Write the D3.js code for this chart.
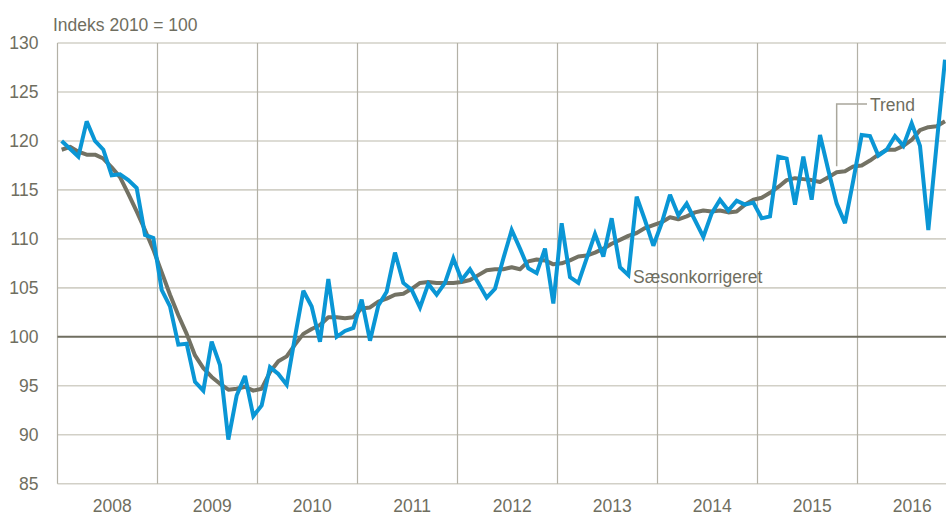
<!DOCTYPE html>
<html>
<head>
<meta charset="utf-8">
<script src="https://cdn.jsdelivr.net/npm/d3@7"></script>
<style>
  html, body { margin: 0; padding: 0; background: #fff; }
  svg { display: block; }
  text { font-family: "Liberation Sans", Arial, sans-serif; }
</style>
</head>
<body>
<svg id="chart" width="946" height="518"></svg>
<script>
// ---- Data (monthly, starting January 2008) ----
const years = ["2008", "2009", "2010", "2011", "2012", "2013", "2014", "2015", "2016"];
const yTicks = [85, 90, 95, 100, 105, 110, 115, 120, 125, 130];

const saesonkorrigeret = [
  120.0, 119.2, 118.4, 122.0, 120.0, 119.1, 116.5, 116.6, 116.0, 115.2, 110.4, 110.1,
  104.8, 103.1, 99.2, 99.3, 95.4, 94.5, 99.5, 97.1, 89.5, 94.0, 96.0, 91.9,
  93.0, 96.9, 96.2, 95.1, 100.0, 104.7, 103.1, 99.5, 105.9, 100.0, 100.6, 100.9,
  103.8, 99.6, 103.2, 104.6, 108.6, 105.5, 104.8, 103.0, 105.4, 104.3, 105.5, 108.0,
  105.8, 106.9, 105.5, 104.0, 104.9, 108.0, 110.9, 109.0, 107.0, 106.5, 109.0, 103.4,
  111.6, 106.1, 105.5, 108.0, 110.5, 108.2, 112.1, 107.1, 106.3, 114.3, 111.9, 109.3,
  111.6, 114.5, 112.4, 113.6, 111.9, 110.2, 112.6, 114.0, 112.9, 113.9, 113.5, 113.7,
  112.1, 112.3, 118.4, 118.2, 113.5, 118.4, 114.0, 120.6, 117.0, 113.6, 111.6, 116.0,
  120.6, 120.5, 118.5, 119.1, 120.5, 119.5, 121.8, 119.5, 110.9, 119.7, 128.3
];

const trend = [
  119.1, 119.4, 118.9, 118.6, 118.6, 118.2, 117.3, 116.3, 114.6, 112.8, 110.9, 108.9,
  106.6, 104.3, 102.2, 100.3, 98.1, 96.8, 95.9, 95.2, 94.6, 94.7, 94.9, 94.5,
  94.7, 96.4, 97.5, 98.0, 99.2, 100.3, 100.8, 101.2, 102.0, 102.0, 101.9, 102.0,
  102.9, 103.0, 103.6, 103.9, 104.3, 104.4, 104.9, 105.5, 105.6, 105.5, 105.5, 105.5,
  105.6, 105.8, 106.3, 106.8, 106.9, 106.9, 107.1, 106.9, 107.7, 107.9, 107.8, 107.4,
  107.5, 107.8, 108.2, 108.3, 108.6, 109.0, 109.5, 109.9, 110.3, 110.6, 111.1, 111.4,
  111.7, 112.2, 112.0, 112.3, 112.7, 112.9, 112.8, 112.9, 112.7, 112.8, 113.5, 114.0,
  114.2, 114.7, 115.3, 116.0, 116.2, 116.1, 116.0, 115.8, 116.3, 116.8, 116.9, 117.4,
  117.5, 118.0, 118.6, 119.1, 119.1, 119.5, 120.1, 121.1, 121.4, 121.5, 122.0
];

// ---- Layout ----
const W = 946, H = 518;
const plot = { left: 57.5, right: 946, top: 43, bottom: 483.7 };
const textColor = "#6f6e60";

const svg = d3.select("#chart");

// x in months since Jan 2008 (month i centred at i + 0.5)
const x = d3.scaleLinear()
  .domain([0, (plot.right - plot.left) / (100 / 12)])
  .range([plot.left, plot.right]);
const y = d3.scaleLinear().domain([85, 130]).range([plot.bottom, plot.top]);

// Horizontal gridlines
svg.append("g").selectAll("line")
  .data(yTicks.filter(v => v !== 100))
  .join("line")
  .attr("x1", plot.left).attr("x2", plot.right)
  .attr("y1", d => y(d)).attr("y2", d => y(d))
  .attr("stroke", "#d2d0c7").attr("stroke-width", 1.6);

// Vertical year gridlines + left axis line
const yearLines = d3.range(0, years.length).map(k => k * 12);
svg.append("g").selectAll("line")
  .data(yearLines)
  .join("line")
  .attr("x1", d => x(d)).attr("x2", d => x(d))
  .attr("y1", plot.top).attr("y2", plot.bottom)
  .attr("stroke", "#b3b1a6").attr("stroke-width", 1.2);

// 100 reference line
svg.append("line")
  .attr("x1", plot.left).attr("x2", plot.right)
  .attr("y1", y(100)).attr("y2", y(100))
  .attr("stroke", "#6f6e60").attr("stroke-width", 2);

// Y axis labels
const yAxis = d3.axisLeft(y).tickValues(yTicks).tickSize(0).tickPadding(0);
const gy = svg.append("g")
  .attr("transform", `translate(38.5,0)`)
  .call(yAxis);
gy.select(".domain").remove();
gy.selectAll("text")
  .attr("fill", textColor)
  .style("font-size", "17.5px")
  .style("font-family", '"Liberation Sans", Arial, sans-serif');

// X axis labels (centred around mid-year)
const xAxis = d3.axisBottom(x)
  .tickValues(years.map((d, i) => i * 12 + 6.5))
  .tickFormat((d, i) => years[i])
  .tickSize(0).tickPadding(0);
const gx = svg.append("g")
  .attr("transform", `translate(0,500)`)
  .call(xAxis);
gx.select(".domain").remove();
gx.selectAll("text")
  .attr("fill", textColor)
  .attr("dy", "0.71em")
  .style("font-size", "17.5px")
  .style("font-family", '"Liberation Sans", Arial, sans-serif');

// Lines
const line = d3.line()
  .x((d, i) => x(i + 0.5))
  .y(d => y(d));

const clip = svg.append("clipPath").attr("id", "clip")
  .append("rect").attr("x", 0).attr("y", 0).attr("width", W).attr("height", H);

svg.append("path")
  .datum(trend)
  .attr("d", line)
  .attr("fill", "none")
  .attr("stroke", "#737264")
  .attr("stroke-width", 4)
  .attr("stroke-linejoin", "round");

svg.append("path")
  .datum(saesonkorrigeret)
  .attr("d", line)
  .attr("fill", "none")
  .attr("stroke", "#0a96d5")
  .attr("stroke-width", 4)
  .attr("stroke-linejoin", "miter")
  .attr("stroke-miterlimit", 3);

// Title
svg.append("text")
  .attr("x", 53).attr("y", 31)
  .attr("fill", textColor)
  .style("font-size", "17.5px")
  .text("Indeks 2010 = 100");

// Series labels
svg.append("text")
  .attr("x", 633).attr("y", 283)
  .attr("fill", textColor)
  .style("font-size", "17.5px")
  .text("Sæsonkorrigeret");

// Trend leader line
const trendIdx = 93;
svg.append("path")
  .attr("d", `M${x(trendIdx + 0.5)},${y(trend[trendIdx]) - 6} V104 H867`)
  .attr("fill", "none")
  .attr("stroke", "#a9a79c")
  .attr("stroke-width", 1.5);

svg.append("text")
  .attr("x", 870).attr("y", 111)
  .attr("fill", textColor)
  .style("font-size", "17.5px")
  .text("Trend");
</script>
</body>
</html>
